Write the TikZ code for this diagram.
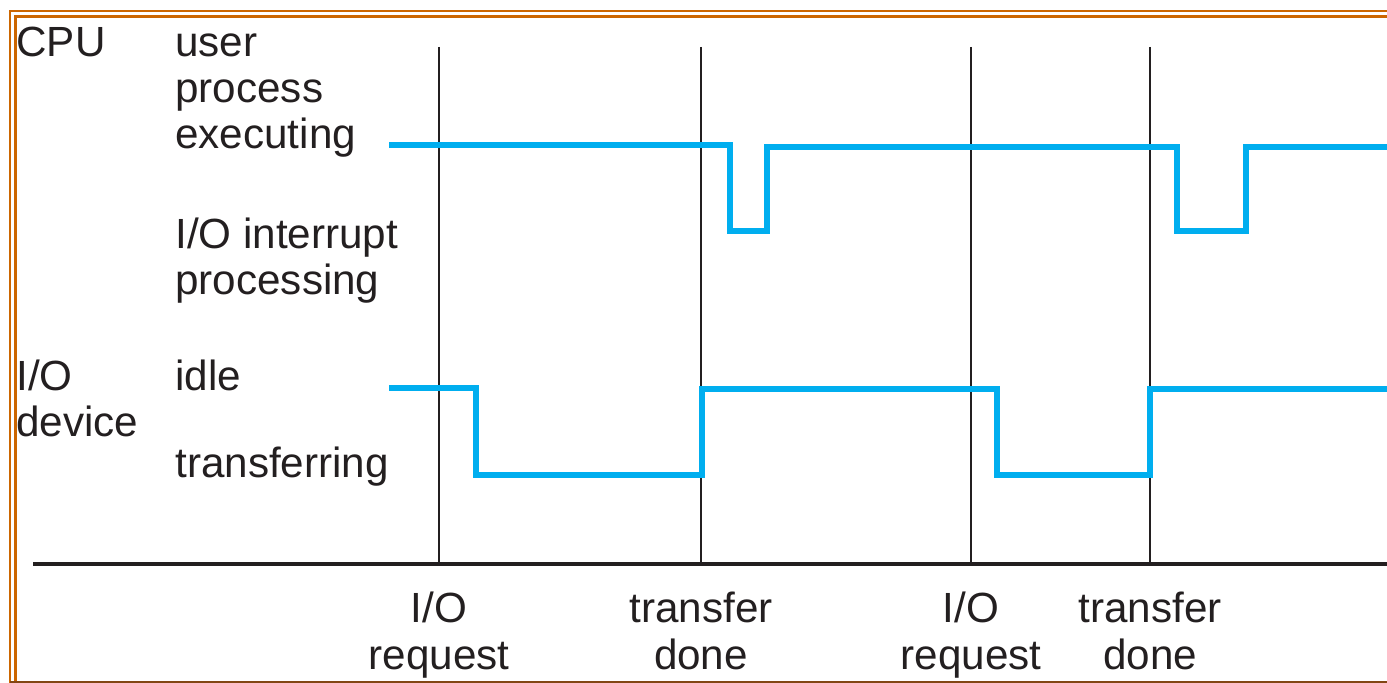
\documentclass[tikz,border=0pt]{standalone}
\usepackage{fontspec}
\setmainfont{Liberation Sans}
\definecolor{sigblue}{RGB}{0,174,239}
\definecolor{frameor}{RGB}{204,102,0}
\definecolor{framebr}{RGB}{130,70,20}
\definecolor{ink}{RGB}{35,31,32}
\begin{document}
\begin{tikzpicture}[x=0.5pt,y=-0.5pt,
  lbl/.style={inner sep=0pt,anchor=base west,text=ink,font=\fontsize{21.1}{23}\selectfont},
  evlbl/.style={inner sep=0pt,anchor=base,text=ink,font=\fontsize{21.1}{23}\selectfont},
  signal/.style={draw=sigblue,line width=3pt,line join=miter,line cap=butt},
  evline/.style={draw=ink,line width=1.3pt},
  axisline/.style={draw=ink,line width=2pt},
  frameline/.style={draw=frameor,line width=1.2pt}]
\useasboundingbox (0,0) rectangle (1387,683);
\fill[white] (0,0) rectangle (1387,683);
% frame
\draw[frameline] (10,683) -- (10,11) -- (1387,11);
\draw[frameline] (15.5,683) -- (15.5,16.5) -- (1387,16.5);
\draw[draw=framebr,line width=1.1pt] (10,682) -- (1387,682);
% event coordinates
\coordinate (t1top) at (439,47);  \coordinate (t1bot) at (439,564);
\coordinate (t2top) at (701,47);  \coordinate (t2bot) at (701,564);
\coordinate (t3top) at (971,47);  \coordinate (t3bot) at (971,564);
\coordinate (t4top) at (1150,47); \coordinate (t4bot) at (1150,564);
\coordinate (axL) at (33,564); \coordinate (axR) at (1387,564);
\draw[evline] (t1top) -- (t1bot);
\draw[evline] (t2top) -- (t2bot);
\draw[evline] (t3top) -- (t3bot);
\draw[evline] (t4top) -- (t4bot);
\draw[axisline] (axL) -- (axR);
% CPU signal
\coordinate (cpuS) at (389,145);
\coordinate (cpuE) at (1387,147.5);
\draw[signal] (cpuS) -- (730,145) -- (730,231.5) -- (767,231.5) -- (767,147.5)
  -- (1177,147.5) -- (1177,231.5) -- (1246,231.5) -- (1246,147.5) -- (cpuE);
% I/O signal
\coordinate (ioS) at (389,388);
\coordinate (ioE) at (1387,389.5);
\draw[signal] (ioS) -- (476,388) -- (476,475) -- (702,475) -- (702,389.5)
  -- (997,389.5) -- (997,475) -- (1150,475) -- (1150,389.5) -- (ioE);
% left labels
\node[lbl] (cpu) at (16,57) {CPU};
\node[lbl] (user1) at (175,57) {user};
\node[lbl] (user2) at (175,103) {process};
\node[lbl] (user3) at (175,149) {executing};
\node[lbl] (int1) at (175,249) {I/O interrupt};
\node[lbl] (int2) at (175,295) {processing};
\node[lbl] (dev1) at (16,391) {I/O};
\node[lbl] (dev2) at (16,437) {device};
\node[lbl] (idle) at (175,391) {idle};
\node[lbl] (xfer) at (175,478) {transferring};
% event labels
\node[evlbl] (e1a) at (439,623) {I/O};
\node[evlbl] (e1b) at (439,669) {request};
\node[evlbl] (e2a) at (701,623) {transfer};
\node[evlbl] (e2b) at (701,669) {done};
\node[evlbl] (e3a) at (971,623) {I/O};
\node[evlbl] (e3b) at (971,669) {request};
\node[evlbl] (e4a) at (1150,623) {transfer};
\node[evlbl] (e4b) at (1150,669) {done};
\end{tikzpicture}
\end{document}
